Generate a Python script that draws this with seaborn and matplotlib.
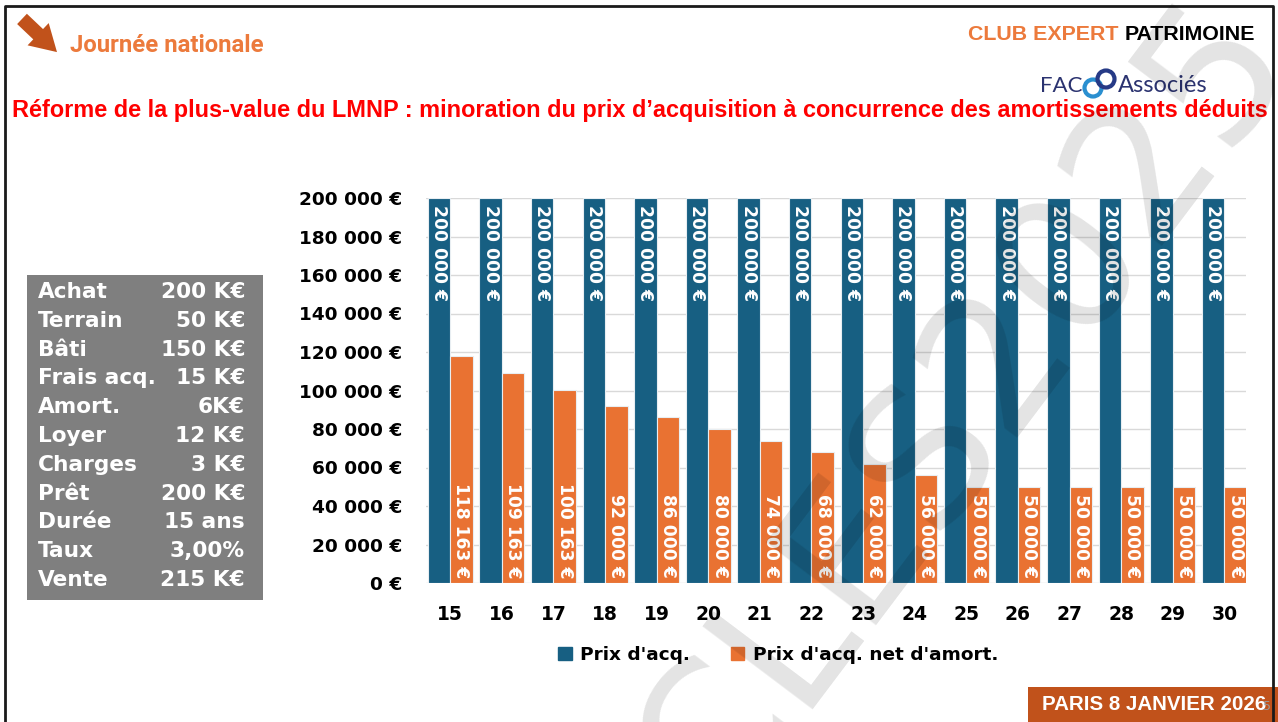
import matplotlib
matplotlib.use("Agg")
import matplotlib.pyplot as plt
import matplotlib.patches as mpatches
import seaborn as sns
import pandas as pd

# ---- data -------------------------------------------------------------
annees = [15, 16, 17, 18, 19, 20, 21, 22, 23, 24, 25, 26, 27, 28, 29, 30]
prix_acq = [200000] * 16
prix_net = [118163, 109163, 100163, 92000, 86000, 80000, 74000, 68000,
            62000, 56000, 50000, 50000, 50000, 50000, 50000, 50000]
series = ["Prix d'acq.", "Prix d'acq. net d'amort."]
y_ticks = list(range(0, 200001, 20000))

hypo_labels = ["Achat", "Terrain", "Bâti", "Frais acq.", "Amort.", "Loyer",
               "Charges", "Prêt", "Durée", "Taux", "Vente"]
hypo_values = ["200 K€", "50 K€", "150 K€", "15 K€", "6K€", "12 K€",
               "3 K€", "200 K€", "15 ans", "3,00%", "215 K€"]

BLUE = "#175f82"
ORANGE = "#e97232"
BRICK = "#c1521b"

df = pd.DataFrame({
    "annee": annees * 2,
    "serie": [series[0]] * len(annees) + [series[1]] * len(annees),
    "valeur": prix_acq + prix_net,
})


def eur(v):
    return f"{v:,}".replace(",", " ") + " €"


# ---- figure -----------------------------------------------------------
W, H = 1278, 722
sns.set_theme(style="white")
plt.rcParams["font.family"] = ["DejaVu Sans"]
plt.rcParams["text.color"] = "black"
fig = plt.figure(figsize=(W / 100, H / 100), dpi=100)
fig.patch.set_facecolor("white")
T = fig.dpi_scale_trans


def P(x, y):
    """pixel position (top-left origin) -> inches for dpi_scale_trans"""
    return x / 100, (H - y) / 100


ax = fig.add_axes([426 / W, 1 - 583 / H, (1246 - 426) / W, (583 - 198) / H])
sns.barplot(data=df, x="annee", y="valeur", hue="serie",
            palette=[BLUE, ORANGE], width=0.87, ax=ax,
            edgecolor="#e8eef2", linewidth=0.8, saturation=1, zorder=3)

ax.set_ylim(0, 200000)
ax.set_xlim(-0.47, 15.42)
ax.set_yticks(y_ticks)
ax.set_yticklabels([eur(v) for v in y_ticks], fontsize=13.3,
                   fontweight="bold", color="black")
ax.set_xticks(range(len(annees)))
ax.set_xticklabels([str(a) for a in annees], fontsize=13.5,
                   fontweight="bold", color="black")
ax.tick_params(axis="y", length=0, pad=17)
ax.tick_params(axis="x", length=0, pad=16)
ax.set_xlabel("")
ax.set_ylabel("")
for s in ax.spines.values():
    s.set_visible(False)
ax.yaxis.grid(True, color="#d9d9d9", linewidth=1, zorder=0)
ax.set_axisbelow(True)

# value labels inside the bars
lab_font = dict(color="white", fontweight="bold", fontsize=12.3)
for bar, v in zip(ax.containers[0], prix_acq):
    ax.annotate(eur(v), (bar.get_x() + bar.get_width() / 2, v),
                xytext=(0, -5), textcoords="offset points",
                rotation=-90, rotation_mode="anchor",
                ha="left", va="center", zorder=5, **lab_font)
for bar, v in zip(ax.containers[1], prix_net):
    ax.annotate(eur(v), (bar.get_x() + bar.get_width() / 2, 0),
                xytext=(0, 3.5), textcoords="offset points",
                rotation=-90, rotation_mode="anchor",
                ha="right", va="center", zorder=5, **lab_font)

# legend
handles = [mpatches.Patch(color=BLUE), mpatches.Patch(color=ORANGE)]
leg = fig.legend(handles, series, loc="center",
                 bbox_to_anchor=(778 / W, 1 - 655 / H), ncol=2,
                 frameon=False, handlelength=0.75, handleheight=0.75,
                 handletextpad=0.45, columnspacing=2.2,
                 prop=dict(weight="bold", size=13.3))
for t in leg.get_texts():
    t.set_color("black")
if ax.get_legend() is not None:
    ax.get_legend().remove()

# ---- slide decorations ------------------------------------------------
# frame
fig.add_artist(plt.Line2D([0.05, 0.05, 12.73, 12.73], [0, 7.16, 7.16, 0],
                          transform=T, color="#1a1a1a", linewidth=2))

# arrow + header
fig.add_artist(mpatches.FancyArrowPatch(
    P(20, 17), P(59, 54), transform=T,
    arrowstyle="simple,head_width=1.3,head_length=1.1,tail_width=0.6",
    mutation_scale=17, color=BRICK, linewidth=0))
fig.text(*P(70, 45), "Journée nationale", transform=T, ha="left",
         va="center", fontsize=17.2, fontweight="bold", color="#ec7a3c",
         family=["Roboto", "DejaVu Sans"])

fig.text(*P(1125, 35), "CLUB EXPERT ", transform=T, ha="right",
         va="center", fontsize=15.4, fontweight="bold", color="#ec7a3c",
         family=["Liberation Sans", "DejaVu Sans"])
fig.text(*P(1125, 35), "PATRIMOINE", transform=T, ha="left", va="center",
         fontsize=15.4, fontweight="bold", color="black",
         family=["Liberation Sans", "DejaVu Sans"])

# company logo
fig.text(*P(1083, 86), "FAC", transform=T, ha="right", va="center",
         fontsize=16, color="#2b3370",
         family=["Lato", "DejaVu Sans"])
for cx, cy, col in [(1093, 88, "#2a8fd0"), (1106, 79, "#263a86")]:
    fig.add_artist(mpatches.Circle(P(cx, cy), 0.085, transform=T,
                                   fill=False, edgecolor=col, linewidth=3))
fig.text(*P(1118, 86), "Associés", transform=T, ha="left", va="center",
         fontsize=17, color="#2b3370",
         family=["Lato", "DejaVu Sans"])

fig.text(*P(640, 111),
         "Réforme de la plus-value du LMNP : minoration du prix d’acquisition "
         "à concurrence des amortissements déduits",
         transform=T, ha="center", va="center", fontsize=16.9,
         fontweight="bold", color="#ff0000",
         family=["Liberation Sans", "DejaVu Sans"])

# hypotheses box
fig.add_artist(mpatches.Rectangle(P(27, 600), 2.36, 3.25, transform=T,
                                  facecolor="#7f7f7f", edgecolor="none"))
for i, (lab, val) in enumerate(zip(hypo_labels, hypo_values)):
    y = 292 + i * 28.8
    fig.text(*P(38, y), lab, transform=T, ha="left", va="center",
             fontsize=15.6, fontweight="bold", color="white")
    fig.text(*P(245, y), val, transform=T, ha="right", va="center",
             fontsize=15.6, fontweight="bold", color="white")

# date banner
fig.add_artist(mpatches.Rectangle(P(1028, 722), 2.5, 0.35, transform=T,
                                  facecolor=BRICK, edgecolor="none"))
fig.text(*P(1154, 705), "PARIS 8 JANVIER 2026", transform=T, ha="center",
         va="center", fontsize=14.8, fontweight="bold", color="white",
         family=["Liberation Sans", "DejaVu Sans"])
fig.text(*P(1267, 706), "5", transform=T, ha="center", va="center",
         fontsize=9, color="#9a9a9a")

# watermark
fig.text(*P(965, 406), "CLES2025", transform=T, ha="center", va="center",
         rotation=53, fontsize=136, color="black", alpha=0.11, zorder=10)

fig.savefig("out.png", dpi=100)
